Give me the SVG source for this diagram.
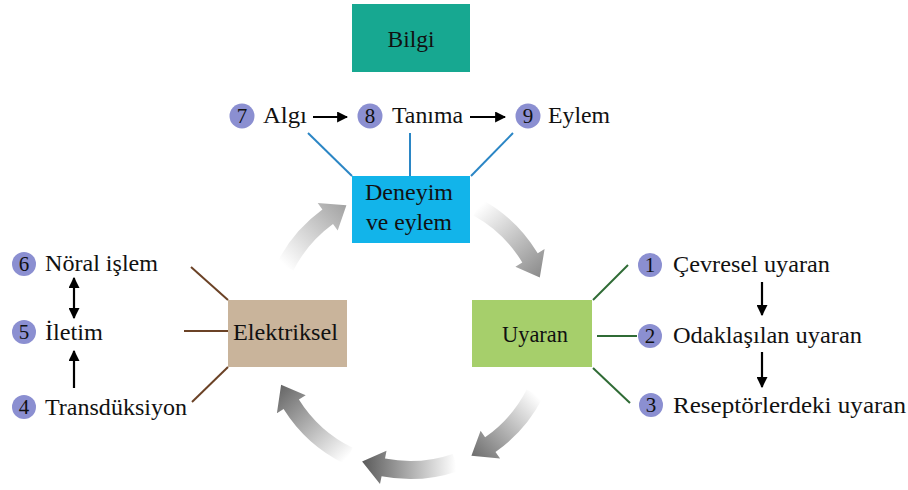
<svg xmlns="http://www.w3.org/2000/svg" width="908" height="490" viewBox="0 0 908 490">
<style>
text{font-family:"Liberation Serif","DejaVu Serif","Noto Serif",serif;font-size:23px;fill:#111}
.num{font-size:21px;text-anchor:middle}
.bt{text-anchor:middle}
.badge{fill:#8b8fd1}
.blue{stroke:#2b86c5;stroke-width:2;fill:none}
.brown{stroke:#6b4226;stroke-width:2;fill:none}
.green{stroke:#2f6b35;stroke-width:2;fill:none}
.arr{stroke:#000;stroke-width:2.2;fill:none}
</style>
<defs>
<marker id="ah" viewBox="0 0 10 10" refX="9" refY="5" markerWidth="5" markerHeight="5" orient="auto-start-reverse">
<path d="M0,0 L10,5 L0,10 z" fill="#000"/>
</marker>
<linearGradient id="gA" gradientUnits="userSpaceOnUse" x1="285" y1="266" x2="346" y2="205"><stop offset="0" stop-color="#fff"/><stop offset="1" stop-color="#a2a2a2"/></linearGradient>
<linearGradient id="gB" gradientUnits="userSpaceOnUse" x1="478" y1="208" x2="540" y2="278"><stop offset="0" stop-color="#fff"/><stop offset="1" stop-color="#8a8a8a"/></linearGradient>
<linearGradient id="gC" gradientUnits="userSpaceOnUse" x1="535" y1="394" x2="471" y2="456"><stop offset="0" stop-color="#fff"/><stop offset="1" stop-color="#6c6c6c"/></linearGradient>
<linearGradient id="gD" gradientUnits="userSpaceOnUse" x1="456" y1="462" x2="362" y2="462"><stop offset="0" stop-color="#fff"/><stop offset="1" stop-color="#5a5a5a"/></linearGradient>
<linearGradient id="gE" gradientUnits="userSpaceOnUse" x1="349" y1="456" x2="281" y2="385"><stop offset="0" stop-color="#fff"/><stop offset="1" stop-color="#666"/></linearGradient>
</defs>
<rect width="908" height="490" fill="#fff"/>

<g id="cycle-arrows">
<path d="M277.2,262.4 A149,149 0 0 1 322.4,209.5 L317.7,203.0 L346.4,205.3 L337.7,230.5 L333.0,224.0 A131,131 0 0 0 293.3,270.5 Z" fill="url(#gA)"/>
<path d="M482.2,199.7 A149,149 0 0 1 537.7,253.3 L544.6,249.1 L539.8,277.6 L515.4,266.7 L522.3,262.5 A131,131 0 0 0 473.5,215.4 Z" fill="url(#gB)"/>
<path d="M542.8,397.6 A149,149 0 0 1 495.5,452.1 L500.1,458.6 L471.4,455.8 L480.6,430.8 L485.1,437.3 A131,131 0 0 0 526.7,389.5 Z" fill="url(#gC)"/>
<path d="M458.5,470.9 A149,149 0 0 1 381.6,476.3 L380.0,484.1 L362.1,461.6 L386.5,450.7 L385.0,458.6 A131,131 0 0 0 452.7,453.9 Z" fill="url(#gD)"/>
<path d="M344.7,463.9 A149,149 0 0 1 283.6,409.0 L276.9,413.2 L281.1,384.7 L305.7,395.2 L298.9,399.4 A131,131 0 0 0 352.6,447.7 Z" fill="url(#gE)"/>
</g>

<g id="connectors">
<line class="blue" x1="308" y1="133" x2="352" y2="176"/>
<line class="blue" x1="410" y1="133" x2="410" y2="176"/>
<line class="blue" x1="513" y1="133" x2="471" y2="176"/>
<line class="brown" x1="191" y1="267" x2="228" y2="300"/>
<line class="brown" x1="184" y1="331" x2="228" y2="331"/>
<line class="brown" x1="192" y1="402" x2="228" y2="367"/>
<line class="green" x1="593" y1="300" x2="628" y2="265"/>
<line class="green" x1="597" y1="336" x2="637" y2="336"/>
<line class="green" x1="593" y1="368" x2="630" y2="403"/>
<line class="arr" x1="313" y1="117" x2="347" y2="117" marker-end="url(#ah)"/>
<line class="arr" x1="470" y1="117" x2="505" y2="117" marker-end="url(#ah)"/>
<line class="arr" x1="74" y1="278" x2="74" y2="318" marker-start="url(#ah)" marker-end="url(#ah)"/>
<line class="arr" x1="74" y1="388" x2="74" y2="351" marker-end="url(#ah)"/>
<line class="arr" x1="762" y1="282" x2="762" y2="315" marker-end="url(#ah)"/>
<line class="arr" x1="762" y1="352" x2="762" y2="387" marker-end="url(#ah)"/>
</g>

<g id="bilgi">
<rect x="352" y="4" width="118" height="68" fill="#17a891"/>
<text class="bt" x="411" y="47" textLength="47" lengthAdjust="spacingAndGlyphs">Bilgi</text>
</g>
<g id="deneyim">
<rect x="352" y="176" width="118" height="67" fill="#12b4ea"/>
<text class="bt" x="409" y="200" textLength="88" lengthAdjust="spacingAndGlyphs">Deneyim</text>
<text class="bt" x="409" y="230" textLength="86" lengthAdjust="spacingAndGlyphs">ve eylem</text>
</g>
<g id="elektriksel">
<rect x="228" y="300" width="119" height="67" fill="#c9b49b"/>
<text x="233" y="340" textLength="105" lengthAdjust="spacingAndGlyphs">Elektriksel</text>
</g>
<g id="uyaran">
<rect x="472" y="300" width="120" height="67" fill="#a6cf6b"/>
<text x="502" y="342" textLength="66" lengthAdjust="spacingAndGlyphs">Uyaran</text>
</g>

<g id="n7"><circle class="badge" cx="242" cy="116" r="12.5"/><text class="num" x="242" y="123">7</text><text x="263" y="123" textLength="44" lengthAdjust="spacingAndGlyphs">Algı</text></g>
<g id="n8"><circle class="badge" cx="370" cy="116" r="12.5"/><text class="num" x="370" y="123">8</text><text x="392" y="123" textLength="71" lengthAdjust="spacingAndGlyphs">Tanıma</text></g>
<g id="n9"><circle class="badge" cx="528" cy="116" r="12.5"/><text class="num" x="528" y="123">9</text><text x="548" y="123" textLength="62" lengthAdjust="spacingAndGlyphs">Eylem</text></g>

<g id="n6"><circle class="badge" cx="24" cy="264" r="12"/><text class="num" x="24" y="271">6</text><text x="45" y="271" textLength="113" lengthAdjust="spacingAndGlyphs">Nöral işlem</text></g>
<g id="n5"><circle class="badge" cx="24" cy="332" r="12"/><text class="num" x="24" y="339">5</text><text x="45" y="340" textLength="58" lengthAdjust="spacingAndGlyphs">İletim</text></g>
<g id="n4"><circle class="badge" cx="24" cy="407" r="12"/><text class="num" x="24" y="414">4</text><text x="45" y="415" textLength="142" lengthAdjust="spacingAndGlyphs">Transdüksiyon</text></g>

<g id="n1"><circle class="badge" cx="650" cy="265" r="12"/><text class="num" x="650" y="272">1</text><text x="673" y="272" textLength="157" lengthAdjust="spacingAndGlyphs">Çevresel uyaran</text></g>
<g id="n2"><circle class="badge" cx="650" cy="336" r="12"/><text class="num" x="650" y="343">2</text><text x="673" y="343" textLength="189" lengthAdjust="spacingAndGlyphs">Odaklaşılan uyaran</text></g>
<g id="n3"><circle class="badge" cx="651" cy="405" r="12"/><text class="num" x="651" y="412">3</text><text x="673" y="413" textLength="233" lengthAdjust="spacingAndGlyphs">Reseptörlerdeki uyaran</text></g>
</svg>
